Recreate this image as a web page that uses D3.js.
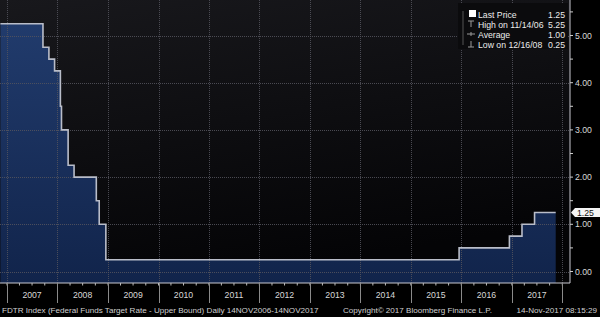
<!DOCTYPE html>
<html><head><meta charset="utf-8">
<script src="https://cdn.jsdelivr.net/npm/d3@7"></script>
<style>html,body{margin:0;padding:0;background:#000;}svg{display:block;}</style>
</head><body>
<svg id="c" width="600" height="317"></svg>
<script>
const stepDates = ["2006-11-14","2007-09-18","2007-10-31","2007-12-11","2008-01-22","2008-01-30","2008-03-18","2008-04-30","2008-10-08","2008-10-29","2008-12-16","2015-12-16","2016-12-14","2017-03-15","2017-06-14","2017-11-14"];
const stepRates = [5.25,4.75,4.50,4.25,3.50,3.00,2.25,2.00,1.50,1.00,0.25,0.50,0.75,1.00,1.25,1.25];
const yTicks = [0,1,2,3,4,5];
const yearLabels = ["2007","2008","2009","2010","2011","2012","2013","2014","2015","2016","2017"];
const legendNames = ["Last Price","High on 11/14/06","Average","Low on 12/16/08"];
const legendValues = ["1.25","5.25","1.00","0.25"];
const lastValue = 1.25;

const parse = d3.timeParse("%Y-%m-%d");
const data = stepDates.map((d,i)=>({date:parse(d), v:stepRates[i]}));

const svg = d3.select("#c");
const font = "'Liberation Sans', Arial, sans-serif";
const W = 600, plotR = 570, plotB = 283;

const x = d3.scaleTime().domain([parse("2006-11-14"), parse("2017-11-14")]).range([0.4, 555.7]);
const y = d3.scaleLinear().domain([0,5]).range([271.5, 35.5]);

const defs = svg.append("defs");
const bg = defs.append("linearGradient").attr("id","bg").attr("x1",0).attr("y1",0).attr("x2",0.3).attr("y2",1);
bg.append("stop").attr("offset","0%").attr("stop-color","#18181c");
bg.append("stop").attr("offset","100%").attr("stop-color","#040406");
const fg = defs.append("linearGradient").attr("id","fg").attr("x1",0).attr("y1",0).attr("x2",0).attr("y2",1);
fg.append("stop").attr("offset","0%").attr("stop-color","#213b6c");
fg.append("stop").attr("offset","100%").attr("stop-color","#11244b");

svg.append("rect").attr("width",W).attr("height",317).attr("fill","#000");
svg.append("rect").attr("x",0).attr("y",0).attr("width",plotR).attr("height",plotB).attr("fill","url(#bg)");

// area
const area = d3.area().x(d=>x(d.date)).y0(plotB).y1(d=>y(d.v)).curve(d3.curveStepAfter);
svg.append("path").datum(data).attr("d",area).attr("fill","url(#fg)");

// grid
const years = d3.timeYear.range(parse("2007-01-01"), parse("2018-01-02"));
svg.append("g").selectAll("line").data(years).join("line")
  .attr("x1",d=>Math.round(x(d))+0.5).attr("x2",d=>Math.round(x(d))+0.5).attr("y1",0).attr("y2",plotB)
  .attr("stroke","#55555e").attr("stroke-width",1).attr("stroke-dasharray","1,1").attr("opacity",0.85);
svg.append("g").selectAll("line").data(yTicks).join("line")
  .attr("x1",0).attr("x2",plotR).attr("y1",d=>Math.round(y(d))+0.5).attr("y2",d=>Math.round(y(d))+0.5)
  .attr("stroke","#55555e").attr("stroke-width",1).attr("stroke-dasharray","1,1").attr("opacity",0.85);

// line
const line = d3.line().x(d=>x(d.date)).y(d=>y(d.v)).curve(d3.curveStepAfter);
svg.append("path").datum(data).attr("d",line).attr("fill","none").attr("stroke","#b9bdc9").attr("stroke-width",1.6);

// axes lines
svg.append("line").attr("x1",0).attr("x2",plotR).attr("y1",plotB).attr("y2",plotB).attr("stroke","#c8c8d0").attr("stroke-width",1);
svg.append("line").attr("x1",plotR).attr("x2",plotR).attr("y1",0).attr("y2",plotB).attr("stroke","#c8c8d0").attr("stroke-width",1);

// x axis: quarter ticks, year dividers, labels
const quarters = d3.timeMonth.every(3).range(parse("2006-12-01"), parse("2018-01-02"));
svg.append("g").selectAll("line").data(quarters).join("line")
  .attr("x1",d=>x(d)).attr("x2",d=>x(d)).attr("y1",plotB).attr("y2",plotB+2.5)
  .attr("stroke","#bbb").attr("stroke-width",1);
svg.append("g").selectAll("line").data(years).join("line")
  .attr("x1",d=>Math.round(x(d))+0.5).attr("x2",d=>Math.round(x(d))+0.5).attr("y1",plotB).attr("y2",303)
  .attr("stroke","#8a8a8a").attr("stroke-width",1);
svg.append("g").selectAll("text").data(yearLabels).join("text")
  .attr("x",d=>x(d3.timeMonth.offset(parse(d+"-01-01"),6)))
  .attr("y",298).attr("text-anchor","middle").attr("fill","#d8d8d8")
  .attr("font-family",font).attr("font-size","8.7px").text(d=>d);

// y axis
const halfTicks = d3.range(0,5.51,0.5);
svg.append("g").selectAll("line").data(halfTicks).join("line")
  .attr("x1",plotR).attr("x2",plotR+3).attr("y1",d=>y(d)).attr("y2",d=>y(d))
  .attr("stroke","#ccc").attr("stroke-width",1);
svg.append("g").selectAll("text").data(yTicks).join("text")
  .attr("x",plotR+5).attr("y",d=>y(d)+3).attr("fill","#d8d8d8")
  .attr("font-family",font).attr("font-size","8.7px").text(d=>d3.format(".2f")(d));

// last value tag
const ly = y(lastValue);
svg.append("path").attr("d",`M${plotR+1},${ly} L${plotR+5},${ly-4.5} L600,${ly-4.5} L600,${ly+4.5} L${plotR+5},${ly+4.5} Z`).attr("fill","#f4f4f4");
svg.append("text").attr("x",plotR+7).attr("y",ly+3).attr("fill","#111")
  .attr("font-family",font).attr("font-size","8.7px").text(d3.format(".2f")(lastValue));

// legend
const lg = svg.append("g");
lg.append("rect").attr("x",458).attr("y",3).attr("width",110).attr("height",46).attr("fill","#0b0b0d");
lg.append("line").attr("x1",463).attr("x2",463).attr("y1",11).attr("y2",45).attr("stroke","#555");
const rowsY = [14,24,34,44];
lg.append("rect").attr("x",469).attr("y",rowsY[0]-4).attr("width",7).attr("height",7).attr("fill","#fff");
const ic = "#9a9a9a";
lg.append("path").attr("d",`M468,${rowsY[1]-3} H474 M471,${rowsY[1]-3} V${rowsY[1]+3}`).attr("stroke",ic).attr("fill","none");
lg.append("path").attr("d",`M467,${rowsY[2]} H475 M471,${rowsY[2]-2} V${rowsY[2]+2}`).attr("stroke",ic).attr("fill","none");
lg.append("path").attr("d",`M471,${rowsY[3]-3} V${rowsY[3]+3} M468,${rowsY[3]+3} H474`).attr("stroke",ic).attr("fill","none");
lg.selectAll("text.n").data(legendNames).join("text").attr("class","n")
  .attr("x",478).attr("y",(d,i)=>rowsY[i]+3.5).attr("fill","#ececec")
  .attr("font-family",font).attr("font-size","8.7px").text(d=>d);
lg.selectAll("text.v").data(legendValues).join("text").attr("class","v")
  .attr("x",565).attr("y",(d,i)=>rowsY[i]+3.5).attr("text-anchor","end").attr("fill","#ececec")
  .attr("font-family",font).attr("font-size","8.7px").text(d=>d);

// footer
const ft = svg.append("g").attr("font-family",font).attr("font-size","8.1px").attr("fill","#d0d0d0");
ft.append("text").attr("x",2).attr("y",313).text("FDTR Index (Federal Funds Target Rate - Upper Bound)  Daily 14NOV2006-14NOV2017");
ft.append("text").attr("x",343).attr("y",313).text("Copyright\u00A9 2017 Bloomberg Finance L.P.");
ft.append("text").attr("x",597).attr("y",313).attr("text-anchor","end").text("14-Nov-2017 08:15:29");
</script>
</body></html>
